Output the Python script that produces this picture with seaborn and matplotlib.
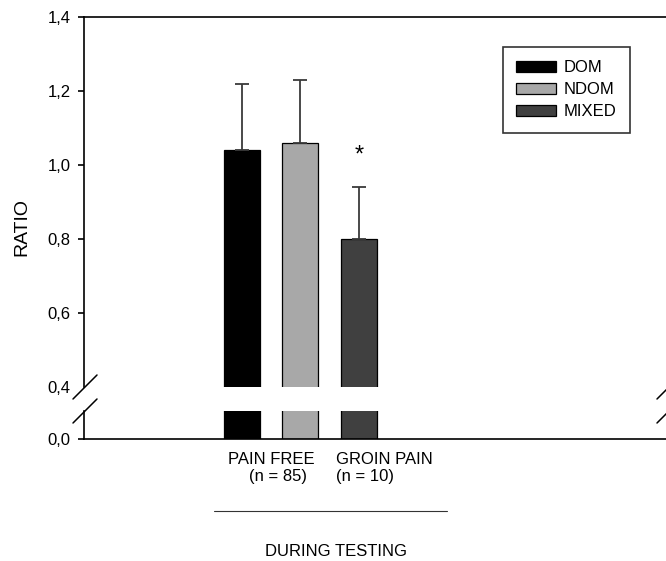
import matplotlib
matplotlib.use("Agg")
import matplotlib.pyplot as plt
import matplotlib.transforms as mtransforms
from matplotlib.lines import Line2D
import seaborn as sns

# data
groups = ["DOM", "NDOM", "MIXED"]
ratio = [1.04, 1.06, 0.80]
sd = [0.18, 0.17, 0.14]
colores = ["#000000", "#a8a8a8", "#404040"]
yticks_up = [0.4, 0.6, 0.8, 1.0, 1.2, 1.4]
ytick_labels_up = ["0,4", "0,6", "0,8", "1,0", "1,2", "1,4"]

sns.set_style("ticks")
plt.rcParams["font.family"] = ["Liberation Sans", "DejaVu Sans"]
plt.rcParams["axes.linewidth"] = 1.2
plt.rcParams["text.color"] = "black"
plt.rcParams["axes.edgecolor"] = "black"

W, H = 666, 561
fig = plt.figure(figsize=(W / 100, H / 100), dpi=100)


def fx(px):
    return px / W


def fy(py):
    return (H - py) / H


ax_up = fig.add_axes([fx(84), fy(387), fx(669) - fx(84), fy(17) - fy(387)])
ax_low = fig.add_axes([fx(84), fy(439), fx(669) - fx(84), fy(411) - fy(439)])

for ax in (ax_up, ax_low):
    sns.barplot(x=groups, y=ratio, hue=groups, palette=colores, order=groups,
                hue_order=groups, width=0.615, edgecolor="black", linewidth=0.9,
                errorbar=None, legend=False, ax=ax)
    ax.set_xlim(-2.70, 7.30)
    ax.set_xlabel("")
    ax.set_ylabel("")
    ax.spines["right"].set_visible(False)
    ax.tick_params(axis="x", length=0, labelbottom=False)
    ax.tick_params(axis="y", direction="out", length=4.3, width=1.2, pad=5.5,
                   labelsize=12, colors="black")
    ax.set_facecolor("white")

# upper part
ax_up.set_ylim(0.4, 1.4)
ax_up.set_yticks(yticks_up)
ax_up.set_yticklabels(ytick_labels_up)
ax_up.yaxis.get_major_ticks()[0].tick1line.set_visible(False)
ax_up.spines["bottom"].set_visible(False)
ax_up.errorbar(range(len(groups)), ratio, yerr=[[0] * len(sd), sd], fmt="none",
               ecolor="#3a3a3a", elinewidth=1.3, capsize=4.7, capthick=1.3, zorder=1)
ax_up.text(2, ratio[2] + sd[2] + 0.085, "*", ha="center", va="center", fontsize=17)

# lower part
ax_low.set_ylim(0, 0.1)
ax_low.set_yticks([0.0])
ax_low.set_yticklabels(["0,0"])
ax_low.spines["top"].set_visible(False)

# break marks
for cx in (85, 669):
    for cy in (387, 411):
        fig.add_artist(Line2D([fx(cx - 12), fx(cx + 12)], [fy(cy + 12), fy(cy - 12)],
                              transform=fig.transFigure, color="black", lw=1.1))

# legend
handles = ax_up.patches[:3]
leg = fig.legend(handles, groups, loc="upper left",
                 bbox_to_anchor=(fx(503), fy(47)), bbox_transform=fig.transFigure,
                 frameon=True, fancybox=False, edgecolor="black", fontsize=12,
                 handlelength=2.35, handleheight=0.72, handletextpad=0.5,
                 labelspacing=0.42, borderpad=0.8, borderaxespad=0)
leg.get_frame().set_linewidth(1.2)

# group labels under the axis
trans = mtransforms.blended_transform_factory(ax_low.transData, fig.transFigure)
ax_low.text(0.51, fy(459), "PAIN FREE", transform=trans, ha="center", va="center", fontsize=12)
ax_low.text(0.61, fy(477), "(n = 85)", transform=trans, ha="center", va="center", fontsize=12)
ax_low.text(1.60, fy(459), "GROIN PAIN", transform=trans, ha="left", va="center", fontsize=12)
ax_low.text(1.60, fy(477), "(n = 10)", transform=trans, ha="left", va="center", fontsize=12)
ax_low.plot([-0.48, 3.50], [fy(511), fy(511)], transform=trans, color="#333333",
            lw=0.8, clip_on=False)
ax_low.text(1.61, fy(552), "DURING TESTING", transform=trans, ha="center", va="center",
            fontsize=12)

fig.text(fx(22), fy(227), "RATIO", rotation=90, ha="center", va="center", fontsize=14)

fig.savefig("out.png", dpi=100)
